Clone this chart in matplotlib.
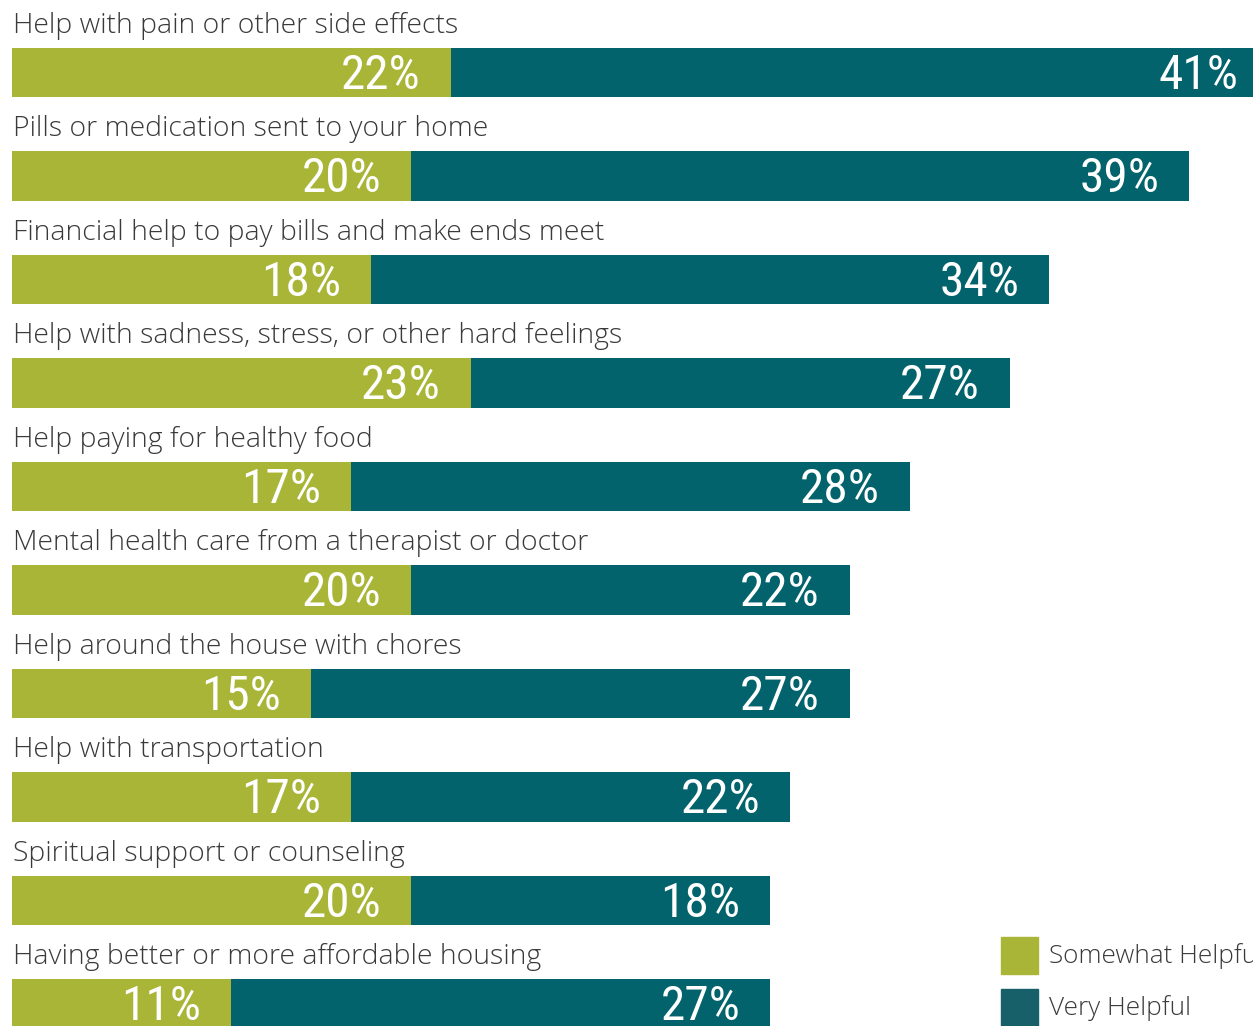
import matplotlib.pyplot as plt
from matplotlib.patches import Rectangle

# survey items, top to bottom
items = [
    "Help with pain or other side effects",
    "Pills or medication sent to your home",
    "Financial help to pay bills and make ends meet",
    "Help with sadness, stress, or other hard feelings",
    "Help paying for healthy food",
    "Mental health care from a therapist or doctor",
    "Help around the house with chores",
    "Help with transportation",
    "Spiritual support or counseling",
    "Having better or more affordable housing",
]
somewhat = [22, 20, 18, 23, 17, 20, 15, 17, 20, 11]
very = [41, 39, 34, 27, 28, 22, 27, 22, 18, 27]

GREEN = "#a9b537"
TEAL = "#03636c"
TEXT = "#3a3a3a"

W, H = 1253, 1026
fig = plt.figure(figsize=(W / 100, H / 100), dpi=100)
ax = fig.add_axes([12 / W, 0, 1 - 12 / W, 1])

px_per_pct = 19.95
ax.set_xlim(0, (W - 12) / px_per_pct)
ax.set_ylim((H - 72.5) / 103.5, -72.5 / 103.5)
ax.axis("off")

num_font = dict(family=["Roboto Condensed", "DejaVu Sans"], color="white",
                fontsize=35.5, va="center", ha="right")
lab_font = dict(family=["Open Sans", "DejaVu Sans"], fontweight="light",
                color=TEXT, fontsize=20.4, va="center", ha="left")

for i, (name, s, v) in enumerate(zip(items, somewhat, very)):
    ax.barh(i, s, height=0.483, color=GREEN, left=0)
    ax.barh(i, v, height=0.483, color=TEAL, left=s)
    ax.text(0.05, i - 0.45, name, **lab_font)
    ax.text(s - 1.5, i + 0.03, f"{s}%", **num_font)
    ax.text(s + v - 1.5, i + 0.03, f"{v}%", **num_font)

# legend in the lower right corner
legend = [("Somewhat Helpful", GREEN, 937), ("Very Helpful", "#17606a", 989)]
for label, col, top in legend:
    fig.add_artist(Rectangle((1001 / W, 1 - (top + 37) / H), 37 / W, 37 / H,
                             transform=fig.transFigure, color=col))
    fig.text(1049 / W, 1 - (top + 19) / H, label, family=["Open Sans", "DejaVu Sans"],
             fontweight="light", color=TEXT, fontsize=18.8, va="center", ha="left")

fig.savefig("out.png", dpi=100)
